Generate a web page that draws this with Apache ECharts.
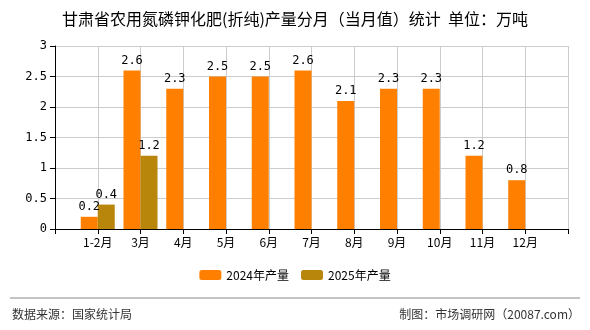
<!DOCTYPE html>
<html><head><meta charset="utf-8">
<script src="https://cdn.jsdelivr.net/npm/echarts@6/dist/echarts.min.js"></script>
<style>html,body{margin:0;padding:0;background:#fff}#c{width:590px;height:330px}</style>
</head><body><div id="c"></div>
<script>
const categories = ['', '1-2月', '3月', '4月', '5月', '6月', '7月', '8月', '9月', '10月', '11月', '12月', ''];
const series2024 = ['-', 0.2, 2.6, 2.3, 2.5, 2.5, 2.6, 2.1, 2.3, 2.3, 1.2, 0.8, '-'];
const series2025 = ['-', 0.4, 1.2, '-', '-', '-', '-', '-', '-', '-', '-', '-', '-'];
const yTicks = [0, 0.5, 1, 1.5, 2, 2.5, 3];
const names = ['2024年产量', '2025年产量'];
const title = '甘肃省农用氮磷钾化肥(折纯)产量分月（当月值）统计  单位：万吨';
const source = '数据来源：国家统计局';
const maker = '制图：市场调研网（20087.com）';

const font = '"Noto Sans CJK SC", sans-serif';
const chart = echarts.init(document.getElementById('c'));
const lbl = {show: true, position: 'top', color: '#000', fontSize: 12, fontFamily: '"DejaVu Sans Mono", monospace', distance: 4};
chart.setOption({
  animation: false,
  title: {text: title, left: 'center', top: 6, textStyle: {fontSize: 16, fontWeight: 'normal', color: '#000', fontFamily: font}},
  legend: {data: names, bottom: 44, itemWidth: 22, itemHeight: 10, itemGap: 12, textStyle: {fontSize: 12, color: '#000', fontFamily: font}},
  grid: {left: 55, right: 22, top: 46, bottom: 101},
  xAxis: {
    type: 'category', data: categories, boundaryGap: false,
    axisLine: {lineStyle: {color: '#000'}},
    axisTick: {show: true, lineStyle: {color: '#000'}, length: 5},
    axisLabel: {color: '#000', fontSize: 12, fontFamily: font, margin: 7},
    splitLine: {show: true, lineStyle: {color: '#ccc'}}
  },
  yAxis: {
    type: 'value', min: yTicks[0], max: yTicks[yTicks.length - 1], interval: 0.5,
    axisLine: {show: true, lineStyle: {color: '#000'}},
    axisTick: {show: true, lineStyle: {color: '#000'}, length: 5},
    axisLabel: {color: '#000', fontSize: 12, fontFamily: '"DejaVu Sans Mono", monospace', margin: 8},
    splitLine: {show: true, lineStyle: {color: '#ccc'}}
  },
  series: [
    {name: names[0], type: 'bar', data: series2024, barWidth: 17, barGap: '0%', itemStyle: {color: '#FF8000'}, label: lbl},
    {name: names[1], type: 'bar', data: series2025, barWidth: 17, barGap: '0%', itemStyle: {color: '#B8860B'}, label: lbl}
  ],
  graphic: [
    {type: 'line', shape: {x1: 10, y1: 298, x2: 580, y2: 298}, style: {stroke: '#888', lineWidth: 1}},
    {type: 'text', left: 12, top: 308, style: {text: source, fontSize: 12, fill: '#333', fontFamily: font}},
    {type: 'text', right: 10, top: 308, style: {text: maker, fontSize: 12, fill: '#333', fontFamily: font}}
  ]
});
</script></body></html>
